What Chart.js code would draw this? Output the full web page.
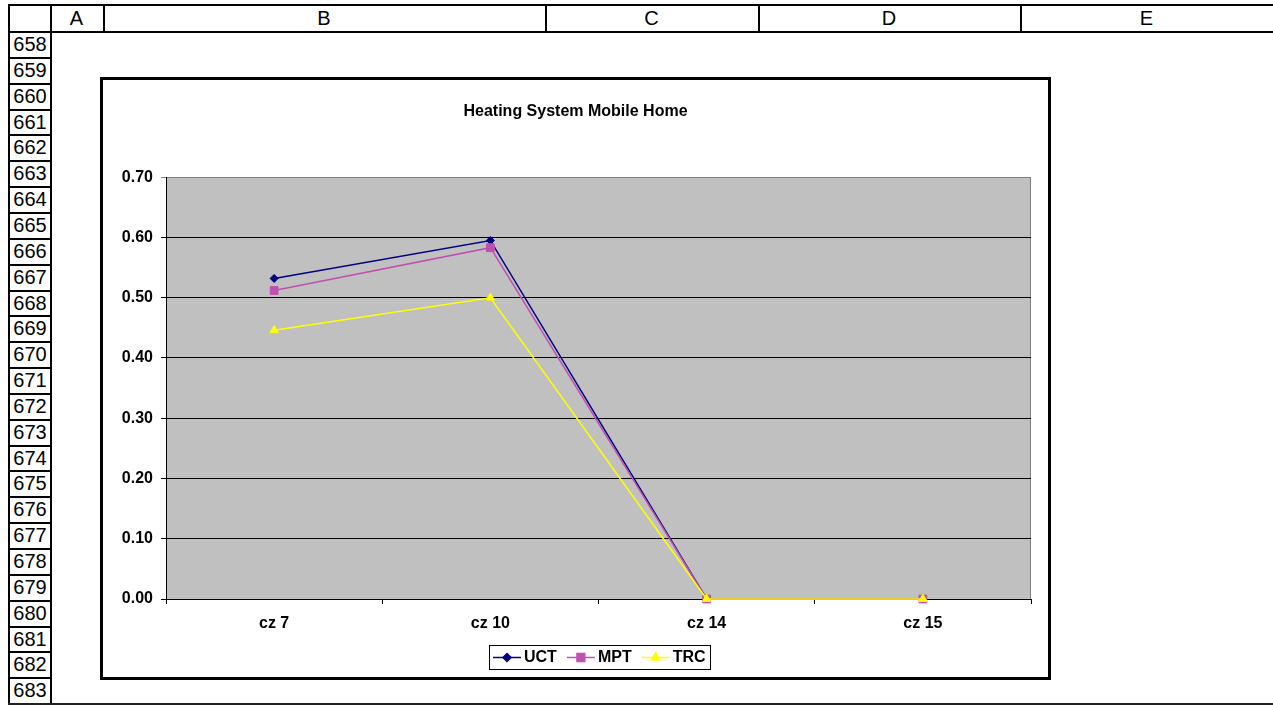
<!DOCTYPE html>
<html>
<head>
<meta charset="utf-8">
<title>Heating System Mobile Home</title>
<script src="https://cdn.jsdelivr.net/npm/chart.js"></script>
<style>
  html, body { margin: 0; padding: 0; background: #fff; }
  body { width: 1273px; height: 708px; position: relative; overflow: hidden;
         font-family: "Liberation Sans", Arial, sans-serif; }
  .ln { position: absolute; background: #000; }
  .hdr { position: absolute; font-size: 20px; color: #000; text-align: center; line-height: 26px; }
  #frame { position: absolute; left: 100px; top: 77px; width: 945px; height: 597px;
           border: 3px solid #000; background: #fff; }
  #frame canvas { display: block; }
</style>
</head>
<body>
<div id="sheet"></div>
<div id="frame"><canvas id="chart" width="945" height="597"></canvas></div>
<script>
// ---- chart data ----
const categories = ['cz 7', 'cz 10', 'cz 14', 'cz 15'];
const seriesNames = ['UCT', 'MPT', 'TRC'];
const uctValues = [0.532, 0.595, 0.000, 0.000];
const mptValues = [0.512, 0.583, 0.000, 0.000];
const trcValues = [0.446, 0.500, 0.000, 0.000];
const chartTitle = 'Heating System Mobile Home';

// ---- worksheet labels ----
const columnLetters = ['A', 'B', 'C', 'D', 'E'];
const rowNumbers = [658, 659, 660, 661, 662, 663, 664, 665, 666, 667, 668, 669, 670,
                    671, 672, 673, 674, 675, 676, 677, 678, 679, 680, 681, 682, 683];

// ---- worksheet grid (headers and borders) ----
(function buildSheet() {
  const sheet = document.getElementById('sheet');
  const colEdges = [50, 103, 545, 758, 1020, 1273];
  const headTop = 4, headBottom = 31, rowH = 25.85, leftX = 8, numRight = 50;
  const bottomY = headBottom + 1 + rowNumbers.length * rowH;

  function line(x, y, w, h, color) {
    const d = document.createElement('div');
    d.className = 'ln';
    d.style.left = x + 'px'; d.style.top = y + 'px';
    d.style.width = w + 'px'; d.style.height = h + 'px';
    if (color) d.style.background = color;
    sheet.appendChild(d);
  }
  function label(text, x, y, w, h) {
    const d = document.createElement('div');
    d.className = 'hdr';
    d.textContent = text;
    d.style.left = x + 'px'; d.style.top = y + 'px';
    d.style.width = w + 'px'; d.style.height = h + 'px';
    d.style.lineHeight = h + 'px';
    sheet.appendChild(d);
  }

  // header row
  line(leftX, headTop, 1273 - leftX, 2);
  line(leftX, headBottom, 1273 - leftX, 2);
  line(leftX, headTop, 2, bottomY - headTop);
  line(numRight, headTop, 2, bottomY - headTop);
  for (let i = 1; i < colEdges.length - 1; i++) {
    line(colEdges[i], headTop, 2, headBottom - headTop);
  }
  columnLetters.forEach((c, i) => {
    label(c, colEdges[i], headTop + 2, colEdges[i + 1] - colEdges[i], headBottom - headTop - 2);
  });

  // row number column
  rowNumbers.forEach((n, i) => {
    const top = headBottom + 1 + i * rowH;
    label(String(n), leftX + 2, top, numRight - leftX - 2, rowH);
    if (i > 0) line(leftX, Math.round(top) - 1, numRight - leftX, 2);
  });
  line(leftX, Math.round(bottomY) - 1, 1273 - leftX, 2, '#222');
})();

// ---- chart ----
const FONT = '"Liberation Sans", Arial, sans-serif';
const seriesStyle = [
  { color: '#000080', point: 'rectRot',  radius: 4 },
  { color: '#C050B0', point: 'rect',     radius: 5.5 },
  { color: '#FFFF00', point: 'triangle', radius: 4.8 }
];
const seriesValues = [uctValues, mptValues, trcValues];

const plotBackground = {
  id: 'plotBackground',
  beforeDraw(chart) {
    const { ctx, chartArea: a } = chart;
    ctx.save();
    ctx.fillStyle = '#C0C0C0';
    ctx.fillRect(a.left, a.top, a.right - a.left, a.bottom - a.top);
    ctx.strokeStyle = '#808080';
    ctx.lineWidth = 1;
    ctx.strokeRect(Math.round(a.left) + 0.5, Math.round(a.top) + 0.5,
                   Math.round(a.right - a.left) - 1, Math.round(a.bottom - a.top));
    ctx.restore();
  }
};

// boxed legend: short line with the series marker, then the name
const boxedLegend = {
  id: 'boxedLegend',
  afterDraw(chart) {
    const { ctx, chartArea: a } = chart;
    const sets = chart.data.datasets;
    ctx.save();
    ctx.font = 'bold 16px ' + FONT;
    const lineLen = 28, textGap = 3, itemGap = 10, padX = 4;
    const widths = sets.map(ds => ctx.measureText(ds.label).width);
    let total = padX * 2;
    widths.forEach((w, i) => { total += lineLen + textGap + w + (i < widths.length - 1 ? itemGap : 0); });
    const boxH = 24;
    const cx = (a.left + a.right) / 2 + 1;
    const left = Math.round(cx - total / 2);
    const top = 565;
    const midY = top + boxH / 2;
    ctx.fillStyle = '#fff';
    ctx.fillRect(left, top, total, boxH);
    ctx.strokeStyle = '#000';
    ctx.lineWidth = 1;
    ctx.strokeRect(left + 0.5, top + 0.5, Math.round(total), boxH);
    let x = left + padX;
    sets.forEach((ds, i) => {
      ctx.strokeStyle = ds.borderColor;
      ctx.lineWidth = 1.5;
      ctx.beginPath();
      ctx.moveTo(x, midY + 0.5);
      ctx.lineTo(x + lineLen, midY + 0.5);
      ctx.stroke();
      ctx.fillStyle = ds.pointBackgroundColor;
      ctx.strokeStyle = ds.pointBorderColor;
      Chart.helpers.drawPoint(ctx, {
        pointStyle: ds.pointStyle, radius: ds.pointRadius, rotation: 0, borderWidth: 1
      }, x + lineLen / 2, midY + 0.5);
      ctx.fillStyle = '#000';
      ctx.textAlign = 'left';
      ctx.textBaseline = 'middle';
      ctx.fillText(ds.label, x + lineLen + textGap, midY + 1);
      x += lineLen + textGap + widths[i] + itemGap;
    });
    ctx.restore();
  }
};

new Chart(document.getElementById('chart'), {
  type: 'line',
  data: {
    labels: categories,
    datasets: seriesNames.map((name, i) => ({
      label: name,
      data: seriesValues[i],
      borderColor: seriesStyle[i].color,
      backgroundColor: seriesStyle[i].color,
      borderWidth: 1.5,
      pointStyle: seriesStyle[i].point,
      pointRadius: seriesStyle[i].radius,
      pointHoverRadius: seriesStyle[i].radius,
      pointBackgroundColor: seriesStyle[i].color,
      pointBorderColor: seriesStyle[i].color,
      pointBorderWidth: 1,
      tension: 0,
      fill: false,
      clip: false,
      order: seriesNames.length - i
    }))
  },
  options: {
    responsive: false,
    animation: false,
    events: [],
    layout: { padding: { left: 17, right: 17, top: 0, bottom: 0 } },
    plugins: {
      legend: { display: false },
      tooltip: { enabled: false },
      title: {
        display: true,
        text: chartTitle,
        color: '#000',
        font: { family: FONT, size: 16, weight: 'bold', lineHeight: 1.2 },
        padding: { top: 22, bottom: 56 }
      }
    },
    scales: {
      x: {
        type: 'category',
        offset: true,
        afterFit(scale) { scale.height = 78; },
        grid: { offset: true, drawOnChartArea: false, drawTicks: true, tickLength: 5,
                color: '#000', lineWidth: 1 },
        border: { display: true, color: '#000', width: 1 },
        ticks: { color: '#000', padding: 10, maxRotation: 0, autoSkip: false,
                 font: { family: FONT, size: 16, weight: 'bold' } }
      },
      y: {
        min: 0,
        max: 0.7,
        afterFit(scale) { scale.width = 46; },
        grid: {
          drawTicks: true, tickLength: 5, lineWidth: 1,
          color: ctx => (ctx.tick && ctx.tick.value >= 0.7 - 1e-9) ? '#808080' : '#000'
        },
        border: { display: true, color: '#000', width: 1 },
        ticks: {
          stepSize: 0.1, color: '#000', padding: 8,
          font: { family: FONT, size: 16, weight: 'bold' },
          callback: v => Number(v).toFixed(2)
        }
      }
    }
  },
  plugins: [plotBackground, boxedLegend]
});
</script>
</body>
</html>
